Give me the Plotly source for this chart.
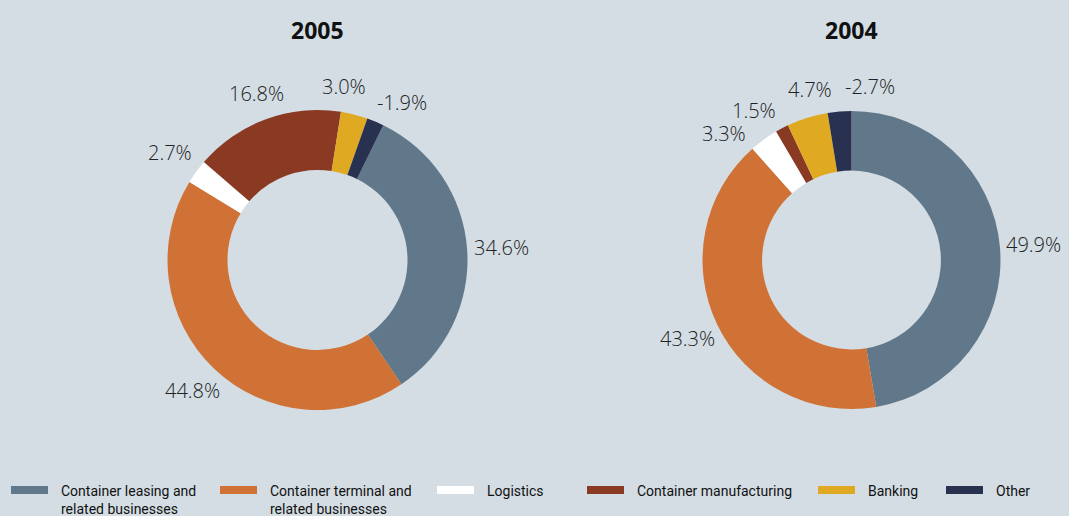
import math
import plotly.graph_objects as go

W, H = 1069, 516

categories = ["Container leasing and related businesses", "Container terminal and related businesses",
              "Logistics", "Container manufacturing", "Banking", "Other"]
legend_labels = ["Container leasing and<br>related businesses", "Container terminal and<br>related businesses",
                 "Logistics", "Container manufacturing", "Banking", "Other"]
values_2005 = [34.6, 44.8, 2.7, 16.8, 3.0, -1.9]
values_2004 = [49.9, 43.3, 3.3, 1.5, 4.7, -2.7]
colors = ["#607889", "#d07235", "#ffffff", "#8a3a22", "#e0a922", "#283150"]
BG = "#d4dde4"
LABEL_FONT = dict(family="Open Sans, Noto Sans, sans-serif", size=20, color="#222222", weight=300)


def px_x(x):
    return x / W


def px_y(y):
    return 1 - y / H


def domain(cx, cy, r):
    return dict(x=[px_x(cx - r), px_x(cx + r)], y=[px_y(cy + r), px_y(cy - r)])


def text_width(s, size):
    w = 0
    for ch in s:
        w += {"%": 0.78, ".": 0.26, "-": 0.32}.get(ch, 0.56)
    return w * size


def label_layout(vals, cx, cy, r, rot):
    """Place percentage labels just outside each slice's mid-angle, spreading overlapping ones."""
    tot = sum(abs(v) for v in vals)
    ang = []
    a = rot
    for v in vals:
        span = abs(v) / tot * 360
        ang.append(a + span / 2)
        a += span
    texts = [f"{v:.1f}%" for v in vals]
    widths = [text_width(t, LABEL_FONT["size"]) for t in texts]
    hgt = LABEL_FONT["size"] * 1.1

    def pos(i):
        th = math.radians(ang[i])
        d = r + 24 + 10 * abs(math.sin(th))
        return cx + d * math.sin(th), cy - d * math.cos(th)

    n = len(vals)
    for _ in range(400):
        moved = False
        for i in range(n):
            j = (i + 1) % n
            xi, yi = pos(i)
            xj, yj = pos(j)
            if abs(xi - xj) < (widths[i] + widths[j]) / 2 + 12 and abs(yi - yj) < hgt:
                ang[i] -= 0.4
                ang[j] += 0.4
                moved = True
        if not moved:
            break
    return [(texts[i],) + pos(i) for i in range(n)]


fig = go.Figure()
annotations = []
pies = [("2005", values_2005, 317.5, 260, 150, 26), ("2004", values_2004, 851.5, 260, 149, 0)]
for title, vals, cx, cy, r, rot in pies:
    fig.add_trace(go.Pie(
        labels=categories,
        values=[abs(v) for v in vals],
        textinfo="none",
        hole=0.6,
        sort=False,
        direction="clockwise",
        rotation=rot,
        marker=dict(colors=colors, line=dict(width=0)),
        domain=domain(cx, cy, r),
        showlegend=False,
    ))
    for t, x, y in label_layout(vals, cx, cy, r, rot):
        annotations.append(dict(text=t, x=px_x(x), y=px_y(y), xref="paper", yref="paper",
                                showarrow=False, xanchor="center", yanchor="middle", font=LABEL_FONT))
    annotations.append(dict(text=f"<b>{title}</b>", x=px_x(cx), y=px_y(30), xref="paper", yref="paper",
                            showarrow=False, xanchor="center", yanchor="middle",
                            font=dict(family="Open Sans, Noto Sans, sans-serif", size=23, color="#111111")))

shapes = []
sym_x = [11, 220, 437, 587, 818, 946]
for lab, col, sx in zip(legend_labels, colors, sym_x):
    shapes.append(dict(type="rect", xref="paper", yref="paper",
                       x0=px_x(sx), x1=px_x(sx + 37), y0=px_y(494), y1=px_y(486),
                       fillcolor=col, line=dict(width=0)))
    annotations.append(dict(text=lab, x=px_x(sx + 48), y=px_y(481), xref="paper", yref="paper",
                            showarrow=False, xanchor="left", yanchor="top", align="left",
                            font=dict(family="Roboto, sans-serif", size=14, color="#111111")))

fig.update_layout(
    width=W, height=H,
    margin=dict(l=0, r=0, t=0, b=0),
    paper_bgcolor=BG, plot_bgcolor=BG,
    annotations=annotations,
    shapes=shapes,
)

fig.write_html("out.html", config={"displayModeBar": False},
               post_script="document.body.style.margin='0';document.body.style.padding='0';"
                           "document.body.style.background='" + BG + "';")
